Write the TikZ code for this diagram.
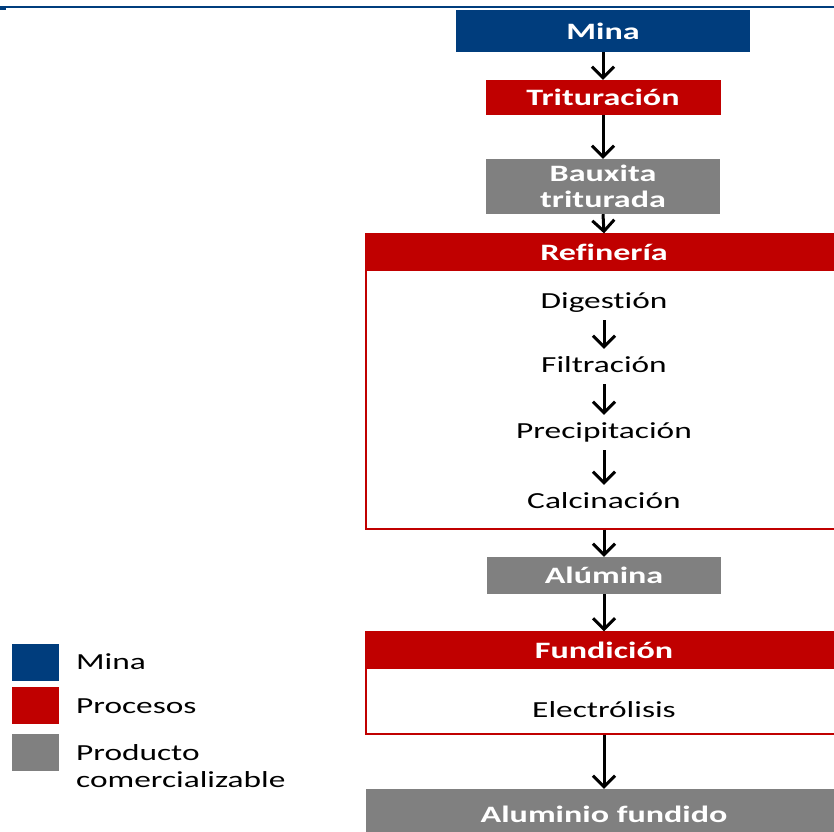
\documentclass[tikz,border=0pt]{standalone}
\usepackage{fontspec}
\setmainfont{Carlito}[FakeStretch=1.45, Ligatures={NoCommon}, RawFeature={-liga;-clig}]
\usetikzlibrary{arrows.meta}
\definecolor{minablue}{RGB}{0,61,125}
\definecolor{procred}{RGB}{192,0,0}
\definecolor{prodgray}{RGB}{128,128,128}
\tikzset{
  box/.style={rectangle, inner sep=0pt, text=white, font=\fontsize{23.5}{26}\selectfont\bfseries, align=center},
  bluebox/.style={box, fill=minablue},
  redbox/.style={box, fill=procred},
  graybox/.style={box, fill=prodgray},
  outline/.style={rectangle, draw=procred, line width=1.3pt, inner sep=0pt, fill=white},
  step txt/.style={inner sep=0pt, anchor=base, text height=23pt, text depth=12pt, font=\fontsize{23}{26}\selectfont},
  arr/.style={line width=3pt, -{Straight Barb[length=11pt,width=22pt,line width=3pt]}},
  legsq/.style={rectangle, inner sep=0pt, minimum width=47pt, minimum height=37pt},
  legtxt/.style={anchor=west, inner sep=0pt, align=left, font=\fontsize{23}{27}\selectfont}
}
\begin{document}
\begin{tikzpicture}[x=1pt,y=-1pt]
\useasboundingbox (0,0) rectangle (834,831);
\begin{scope}
\clip (0,0) rectangle (834,831);
% top rule
\draw[minablue, line width=1.5pt] (0,7) -- (834,7);
\fill[minablue] (0,7) rectangle (6,10);

% main boxes
\node[bluebox, minimum width=294pt, minimum height=42pt] (mina) at (603,31) {Mina};
\node[redbox, minimum width=235pt, minimum height=35pt] (trit) at (603,97.5) {Trituración};
\node[graybox, minimum width=234pt, minimum height=55pt] (baux) at (603,186.5) {Bauxita\\triturada};

\node[outline, minimum width=476pt, minimum height=295pt] (ref) at (604,381.5) {};
\node[redbox, anchor=north, minimum width=476pt, minimum height=37pt] (refh) at (ref.north) {Refinería};

\node[step txt] (dig) at (604,308) {Digestión};
\node[step txt] (fil) at (604,372) {Filtración};
\node[step txt] (pre) at (604,438) {Precipitación};
\node[step txt] (cal) at (604,508) {Calcinación};

\node[graybox, minimum width=234pt, minimum height=37pt] (alu) at (604,575.5) {Alúmina};

\node[outline, minimum width=476pt, minimum height=102pt] (fun) at (604,683) {};
\node[redbox, anchor=north, minimum width=476pt, minimum height=37pt] (funh) at (fun.north) {Fundición};
\node[step txt] (ele) at (604,717) {Electrólisis};

\node[graybox, minimum width=476pt, minimum height=50pt] (alf) at (604,814) {Aluminio fundido};

% connectors
\draw[arr] (mina.south) -- (trit.north);
\draw[arr] (trit.south) -- (baux.north);
\draw[arr] (baux.south) -- (ref.north);
\draw[arr] (dig.south) -- (fil.north);
\draw[arr] (fil.south) -- (pre.north);
\draw[arr] (pre.south) -- (cal.north);
\draw[arr] (ref.south) -- (alu.north);
\draw[arr] (alu.south) -- (fun.north);
\draw[arr] (fun.south) -- (alf.north);

% legend
\node[legsq, fill=minablue] (l1) at (35.5,662.5) {};
\node[legsq, fill=procred] (l2) at (35.5,705.5) {};
\node[legsq, fill=prodgray] (l3) at (35.5,752.5) {};
\node[legtxt] (t1) at (76,662) {Mina};
\node[legtxt] (t2) at (76,706) {Procesos};
\node[legtxt] (t3) at (76,766) {Producto\\comercializable};
\end{scope}
\end{tikzpicture}
\end{document}
